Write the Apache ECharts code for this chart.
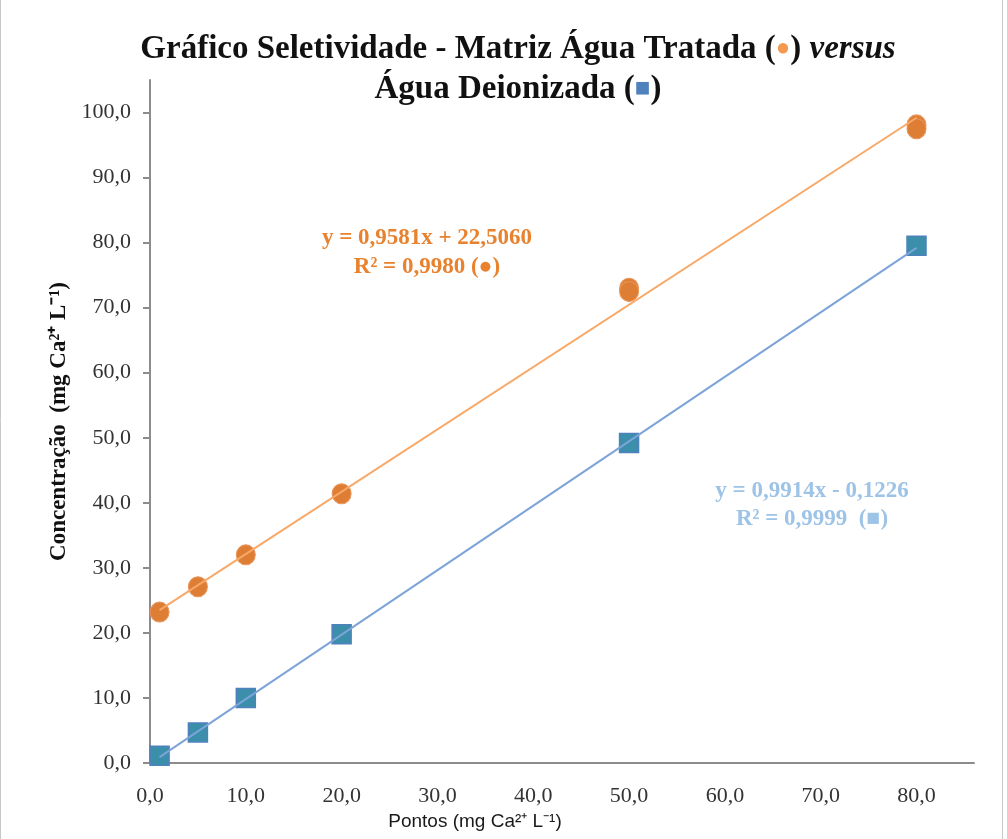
<!DOCTYPE html>
<html>
<head>
<meta charset="utf-8">
<script src="https://cdn.jsdelivr.net/npm/echarts@6/dist/echarts.min.js"></script>
<style>html,body{margin:0;padding:0;background:#fff}#c{width:1007px;height:839px}</style>
</head>
<body>
<div id="c"></div>
<script>
// Data
const xTicks = [0, 10, 20, 30, 40, 50, 60, 70, 80];
const yTicks = [0, 10, 20, 30, 40, 50, 60, 70, 80, 90, 100];
const tratadaX = [1, 5, 10, 20, 50, 50, 80, 80];
const tratadaY = [23.2, 27.1, 32.0, 41.4, 73.0, 72.5, 98.1, 97.5];
const deionizadaX = [1, 5, 10, 20, 50, 80];
const deionizadaY = [1.1, 4.7, 10.0, 19.8, 49.2, 79.5];
const trendTratadaX = [1, 80];
const trendTratadaY = [23.5, 99.2];
const trendDeionizadaX = [1, 80];
const trendDeionizadaY = [0.9, 79.2];
const eqTratada = ['y = 0,9581x + 22,5060', 'R² = 0,9980 (●)'];
const eqDeionizada = ['y = 0,9914x - 0,1226', 'R² = 0,9999  (■)'];

const zip = (xs, ys) => xs.map((x, i) => [x, ys[i]]);
const fmt = v => v.toFixed(1).replace('.', ',');
const serif = "'Liberation Serif', 'Times New Roman', serif";
const axisColor = '#8c8c8c';

const chart = echarts.init(document.getElementById('c'), null, {renderer: 'canvas'});
chart.setOption({
  backgroundColor: '#fff',
  animation: false,
  title: {
    left: 513, top: 24, textAlign: 'center',
    text: 'Gráfico Seletividade - Matriz Água Tratada ({o|●}) {i|versus}\nÁgua Deionizada ({s|■})',
    textStyle: {
      fontFamily: serif, fontWeight: 'bold', fontSize: 33, color: '#111', lineHeight: 40,
      rich: {
        o: {fontFamily: serif, fontSize: 24, color: '#F39A50', fontWeight: 'bold'},
        i: {fontFamily: serif, fontSize: 33, fontStyle: 'italic', fontWeight: 'bold', color: '#111'},
        s: {fontFamily: serif, fontSize: 26, color: '#4F81BD', fontWeight: 'bold'}
      }
    }
  },
  grid: {left: 150, right: 33, top: 80, bottom: 76, containLabel: false},
  xAxis: {
    type: 'value', min: 0, max: 86, interval: 10,
    splitLine: {show: false},
    axisLine: {show: true, onZero: false, lineStyle: {color: axisColor, width: 2}},
    axisTick: {show: false},
    axisLabel: {customValues: xTicks, formatter: fmt, margin: 22, fontFamily: serif, fontSize: 22, color: '#333'},
    name: 'Pontos (mg Ca²⁺ L⁻¹)', nameLocation: 'middle', nameGap: 47,
    nameTextStyle: {fontFamily: "'Liberation Sans Narrow', 'Liberation Sans', Arial, sans-serif", fontSize: 19, color: '#1a1a1a', padding: [0, 174, 0, 0]}
  },
  yAxis: {
    type: 'value', min: 0, max: 105, interval: 10,
    splitLine: {show: false},
    axisLine: {show: true, lineStyle: {color: axisColor, width: 2}},
    axisTick: {show: true, length: 7, customValues: yTicks, lineStyle: {color: axisColor, width: 2}},
    axisLabel: {customValues: yTicks, formatter: fmt, margin: 19, fontFamily: serif, fontSize: 22, color: '#333'},
    name: 'Concentração  (mg Ca²⁺ L⁻¹)', nameLocation: 'middle', nameGap: 78, nameRotate: 90,
    nameTextStyle: {fontFamily: serif, fontWeight: 'bold', fontSize: 23, color: '#111'}
  },
  series: [
    {
      name: 'Água Tratada', type: 'scatter', symbol: 'circle', symbolSize: [19, 20], z: 2,
      data: zip(tratadaX, tratadaY),
      itemStyle: {color: '#DE7E35', borderColor: '#E8955A', borderWidth: 1, opacity: 1}
    },
    {
      name: 'Água Deionizada', type: 'scatter', symbol: 'rect', symbolSize: 19, z: 2,
      data: zip(deionizadaX, deionizadaY),
      itemStyle: {color: '#3B8FAA', borderColor: '#4F81BD', borderWidth: 1.5, opacity: 1}
    },
    {
      name: 'Tendência Tratada', type: 'line', z: 3, symbol: 'none', silent: true,
      data: zip(trendTratadaX, trendTratadaY),
      lineStyle: {color: '#F8A867', width: 2}
    },
    {
      name: 'Tendência Deionizada', type: 'line', z: 3, symbol: 'none', silent: true,
      data: zip(trendDeionizadaX, trendDeionizadaY),
      lineStyle: {color: '#7CA4D8', width: 2}
    }
  ],
  graphic: [
    {type: 'rect', silent: true, z: -1, shape: {x: 0.5, y: -2, width: 1002, height: 850},
     style: {fill: 'none', stroke: '#c8c8c8', lineWidth: 1}},
    {type: 'text', x: 427, y: 238, style: {text: eqTratada[0], align: 'center', verticalAlign: 'middle', fill: '#E8822E', font: "bold 23px " + serif}},
    {type: 'text', x: 427, y: 267, style: {text: eqTratada[1], align: 'center', verticalAlign: 'middle', fill: '#E8822E', font: "bold 23px " + serif}},
    {type: 'text', x: 812, y: 491, style: {text: eqDeionizada[0], align: 'center', verticalAlign: 'middle', fill: '#9DC3E6', font: "bold 23px " + serif}},
    {type: 'text', x: 812, y: 519, style: {text: eqDeionizada[1], align: 'center', verticalAlign: 'middle', fill: '#9DC3E6', font: "bold 23px " + serif}}
  ]
});
</script>
</body>
</html>
